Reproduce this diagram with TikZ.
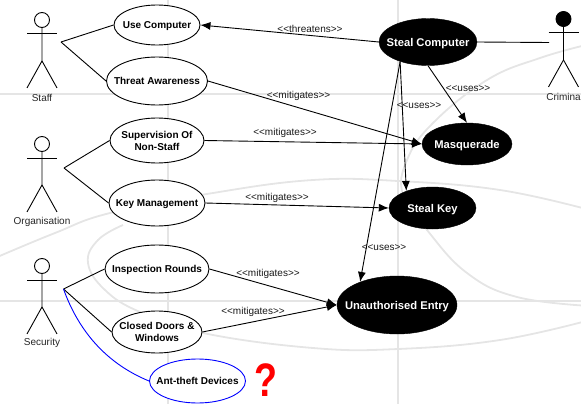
\documentclass[tikz,border=0pt]{standalone}
\usepackage{fontspec}
\setmainfont{Liberation Sans}
\usetikzlibrary{arrows.meta,shapes.geometric,calc}
\tikzset{
  uc/.style={draw=black,fill=white,ellipse,line width=0.9pt,inner sep=0pt,font=\bfseries\fontsize{10}{12}\selectfont,text=black},
  threat/.style={draw=black,fill=black,ellipse,inner sep=0pt,font=\bfseries\fontsize{11.2}{13}\selectfont,text=white},
  assoc/.style={draw=black,line width=0.9pt},
  tip/.style={assoc,-{Latex[length=10pt,width=8pt]}},
  lbl/.style={font=\fontsize{10}{12}\selectfont,inner sep=0pt,text=black!90},
  actorlbl/.style={font=\fontsize{10}{12}\selectfont,inner sep=0pt,text=black!85},
  bgline/.style={draw=black!10,line width=1.8pt},
  limb/.style={draw=black,line width=0.9pt}
}
\newcommand{\zt}[1]{\smash{\raisebox{-.37em}{\makebox[0pt]{\begin{tabular}{@{}c@{}}#1\end{tabular}}}}}
\newcommand{\actor}[4]{% x, head y, name, head fill
  \node[draw=black,fill=#4,circle,minimum size=15pt,inner sep=0pt,line width=0.9pt] (#3) at (#1,#2) {};
  \draw[limb] (#3.south) -- ++(0,33) coordinate (#3h) -- ++(-15,27);
  \draw[limb] (#3h) -- ++(15,27);
  \draw[limb] ($(#3.south)+(-15,6)$) -- ($(#3.south)+(15,6)$);
}
\begin{document}
\begin{tikzpicture}[x=1pt,y=-1pt]
\useasboundingbox (0,0) rectangle (581,404);
\begin{scope}
\clip (0,0) rectangle (581,404);
% background
\draw[bgline] (168,0) -- (168,404);
\draw[bgline] (398,0) -- (398,404);
\draw[bgline] (0,94) -- (581,94);
\draw[bgline] (0,301) -- (581,301);
\draw[bgline] plot[smooth,tension=0.7] coordinates {(-5,258) (55,233) (110,213) (213,193) (313,180) (398,181) (500,190) (590,210)};
\draw[bgline] plot[smooth,tension=0.7] coordinates {(123,225) (98,240) (88,263) (105,290) (140,312) (203,333) (313,348) (398,349) (500,340) (590,320)};
\draw[bgline] plot[smooth,tension=0.7] coordinates {(590,44) (540,58) (487,80) (433,123) (407,160) (403,195) (427,230) (467,273) (517,297) (590,306)};
\end{scope}
% ellipses
\node[uc,minimum width=86pt,minimum height=40pt] (use) at (157,25) {\zt{Use Computer}};
\node[uc,minimum width=101pt,minimum height=48pt] (aware) at (157,81) {\zt{Threat Awareness}};
\node[uc,minimum width=94pt,minimum height=45pt] (super) at (157,140.5) {\zt{Supervision Of\\Non-Staff}};
\node[uc,minimum width=96pt,minimum height=46pt] (key) at (157,203) {\zt{Key Management}};
\node[uc,minimum width=104pt,minimum height=48pt] (insp) at (157,269) {\zt{Inspection Rounds}};
\node[uc,minimum width=90pt,minimum height=42pt] (doors) at (157,332) {\zt{Closed Doors \&\\Windows}};
\node[uc,draw=blue,minimum width=96pt,minimum height=44pt] (anti) at (197.5,381) {\zt{Ant-theft Devices}};
\node[threat,minimum width=98pt,minimum height=47pt] (steal) at (428,42) {\zt{Steal Computer}};
\node[threat,minimum width=90pt,minimum height=42pt] (masq) at (467,144) {\zt{Masquerade}};
\node[threat,minimum width=87pt,minimum height=42pt] (skey) at (432.5,208) {\zt{Steal Key}};
\node[threat,minimum width=120pt,minimum height=58pt] (entry) at (397,305) {\zt{Unauthorised Entry}};
% actors
\actor{42}{20}{staff}{white}
\actor{42}{144}{org}{white}
\actor{42}{266}{sec}{white}
\actor{563.5}{19}{crim}{black}
\node[actorlbl] (staffl) at (42,98) {Staff};
\node[actorlbl] (orgl) at (42,222) {Organisation};
\node[actorlbl] (secl) at (42,343) {Security};
\node[actorlbl,anchor=east] (criml) at (581,97) {Crimina};
\coordinate (staffa) at (61,42);
\coordinate (orga) at (64,168);
\coordinate (seca) at (63.5,289);
\coordinate (crima) at (549,42.5);
% connectors
\draw[assoc] (staffa) -- (use.west);
\draw[assoc] (staffa) -- (aware.west);
\draw[assoc] (orga) -- (super.west);
\draw[assoc] (orga) -- (key.west);
\draw[assoc] (seca) -- (insp.west);
\draw[assoc] (seca) -- (doors.west);
\draw[draw=blue,line width=0.9pt] (seca) .. controls (80,335) and (110,365) .. (anti.west);
\draw[assoc] (steal.east) -- (crima);
\draw[tip] (steal.west) -- (use.east);
\draw[tip] (aware.east) -- (masq.west);
\draw[tip] (super.east) -- (masq.west);
\draw[tip] (key.east) -- (skey.west);
\draw[tip] (insp.east) -- (entry.west);
\draw[tip] (doors.east) -- (entry.west);
\draw[tip] (steal.south) -- (masq.north);
\draw[tip] (steal.215) -- (skey.147);
\draw[tip] (steal.215) -- (entry.148);
% labels
\node[lbl] (l1) at (310,29) {<{}<threatens>{}>};
\node[lbl] (l2) at (298.5,96) {<{}<mitigates>{}>};
\node[lbl] (l3) at (285,133) {<{}<mitigates>{}>};
\node[lbl] (l4) at (277,198) {<{}<mitigates>{}>};
\node[lbl] (l5) at (268,274) {<{}<mitigates>{}>};
\node[lbl] (l6) at (253,312) {<{}<mitigates>{}>};
\node[lbl] (l7) at (468,89) {<{}<uses>{}>};
\node[lbl] (l8) at (419,106) {<{}<uses>{}>};
\node[lbl] (l9) at (384,248) {<{}<uses>{}>};
\node[font=\bfseries\fontsize{47}{47}\selectfont,text=red,inner sep=0pt,xscale=0.8,transform shape] (q) at (266,380) {?};
\end{tikzpicture}
\end{document}
